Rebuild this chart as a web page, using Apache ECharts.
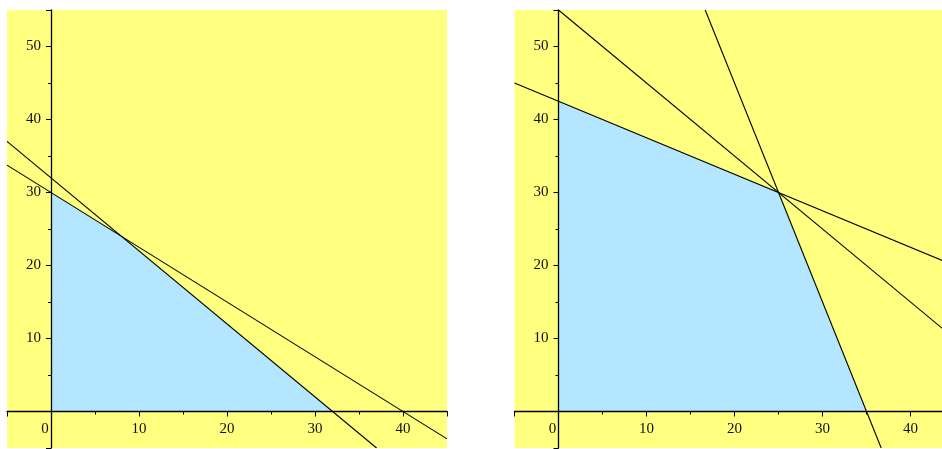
<!DOCTYPE html>
<html>
<head>
<meta charset="utf-8">
<script src="https://cdn.jsdelivr.net/npm/echarts@6/dist/echarts.min.js"></script>
<style>
* { margin: 0; padding: 0; }
body { background: #fff; }
#main { width: 942px; height: 449px; }
</style>
</head>
<body>
<div id="main"></div>
<script>
// axis ranges, same in both panels
var xRange = [-5, 45];
var yRange = [-5, 55];

// left panel: two constraint lines (end points) and the feasible corners
var leftLineA = [[-5, 33.75], [45, -3.75]];   // 3x + 4y = 120
var leftLineB = [[-5, 37], [37, -5]];         // x + y = 32
var leftRegion = [[0, 30], [8, 24], [32, 0]];

// right panel: three constraint lines and the feasible corners
var rightLineA = [[-5, 45], [45, 20]];        // x + 2y = 85
var rightLineB = [[0, 55], [45, 10]];         // x + y = 55
var rightLineC = [[16.67, 55], [36.67, -5]];  // 3x + y = 105
var rightRegion = [[0, 42.5], [25, 30], [35, 0]];

var yellow = '#FFFF80';
var blue = '#B4E6FF';
var gridW = 440, gridH = 438;
var labelFont = { color: '#111', fontFamily: 'Liberation Serif', fontSize: 15 };

// axes through the origin: line + ticks only
function lineX(gi) {
  return {
    gridIndex: gi, type: 'value', min: xRange[0], max: xRange[1], z: 5,
    splitLine: { show: false },
    axisLine: { onZero: true, lineStyle: { color: '#000', width: 1.3 } },
    axisTick: { length: 5, lineStyle: { color: '#000' } },
    minorTick: { show: true, splitNumber: 2, length: 3, lineStyle: { color: '#000' } },
    axisLabel: { show: false }
  };
}
function lineY(gi) {
  return {
    gridIndex: gi, type: 'value', min: yRange[0], max: yRange[1], z: 5,
    splitLine: { show: false },
    axisLine: { onZero: true, lineStyle: { color: '#000', width: 1.3 } },
    axisTick: { length: 5, lineStyle: { color: '#000' } },
    minorTick: { show: true, splitNumber: 2, length: 3, lineStyle: { color: '#000' } },
    axisLabel: { show: false }
  };
}

// label-only axes, shifted in so that they sit on the zero lines
function labelX(gi) {
  return {
    gridIndex: gi, type: 'value', min: xRange[0], max: xRange[1], z: 5,
    position: 'bottom',
    offset: -gridH * (0 - yRange[0]) / (yRange[1] - yRange[0]),
    axisLine: { show: false, onZero: false },
    axisTick: { show: false },
    splitLine: { show: false },
    axisLabel: Object.assign({
      margin: 10,
      formatter: function (v) {
        if (v % 10 !== 0) return '';
        if (v === 0) return '{z|0}';
        return String(v);
      },
      rich: { z: Object.assign({ padding: [0, 12, 0, 0] }, labelFont) }
    }, labelFont)
  };
}
function labelY(gi) {
  return {
    gridIndex: gi, type: 'value', min: yRange[0], max: yRange[1], z: 5,
    position: 'left',
    offset: -gridW * (0 - xRange[0]) / (xRange[1] - xRange[0]),
    axisLine: { show: false, onZero: false },
    axisTick: { show: false },
    splitLine: { show: false },
    axisLabel: Object.assign({
      margin: 10,
      formatter: function (v) {
        if (v % 10 !== 0 || v === 0) return '';
        return String(v);
      }
    }, labelFont)
  };
}

function region(gi, data) {
  return {
    type: 'line', xAxisIndex: gi, yAxisIndex: gi, data: data,
    symbol: 'none', silent: true, z: 1,
    lineStyle: { width: 0, opacity: 0 },
    areaStyle: { color: blue, opacity: 1 }
  };
}

function edge(gi, data) {
  return {
    type: 'line', xAxisIndex: gi, yAxisIndex: gi, data: data,
    symbol: 'none', silent: true, z: 6, clip: true,
    lineStyle: { color: '#000', width: 1.1 }
  };
}

var chart = echarts.init(document.getElementById('main'));
chart.setOption({
  animation: false,
  backgroundColor: '#fff',
  grid: [
    { left: 7, top: 10, width: gridW, height: gridH, show: true, backgroundColor: yellow, borderWidth: 0,
      containLabel: false, outerBoundsMode: 'none' },
    { left: 514.5, top: 10, width: gridW, height: gridH, show: true, backgroundColor: yellow, borderWidth: 0,
      containLabel: false, outerBoundsMode: 'none' }
  ],
  xAxis: [lineX(0), lineX(1), labelX(0), labelX(1)],
  yAxis: [lineY(0), lineY(1), labelY(0), labelY(1)],
  series: [
    region(0, leftRegion),
    edge(0, leftLineA),
    edge(0, leftLineB),
    region(1, rightRegion),
    edge(1, rightLineA),
    edge(1, rightLineB),
    edge(1, rightLineC)
  ]
});
</script>
</body>
</html>
